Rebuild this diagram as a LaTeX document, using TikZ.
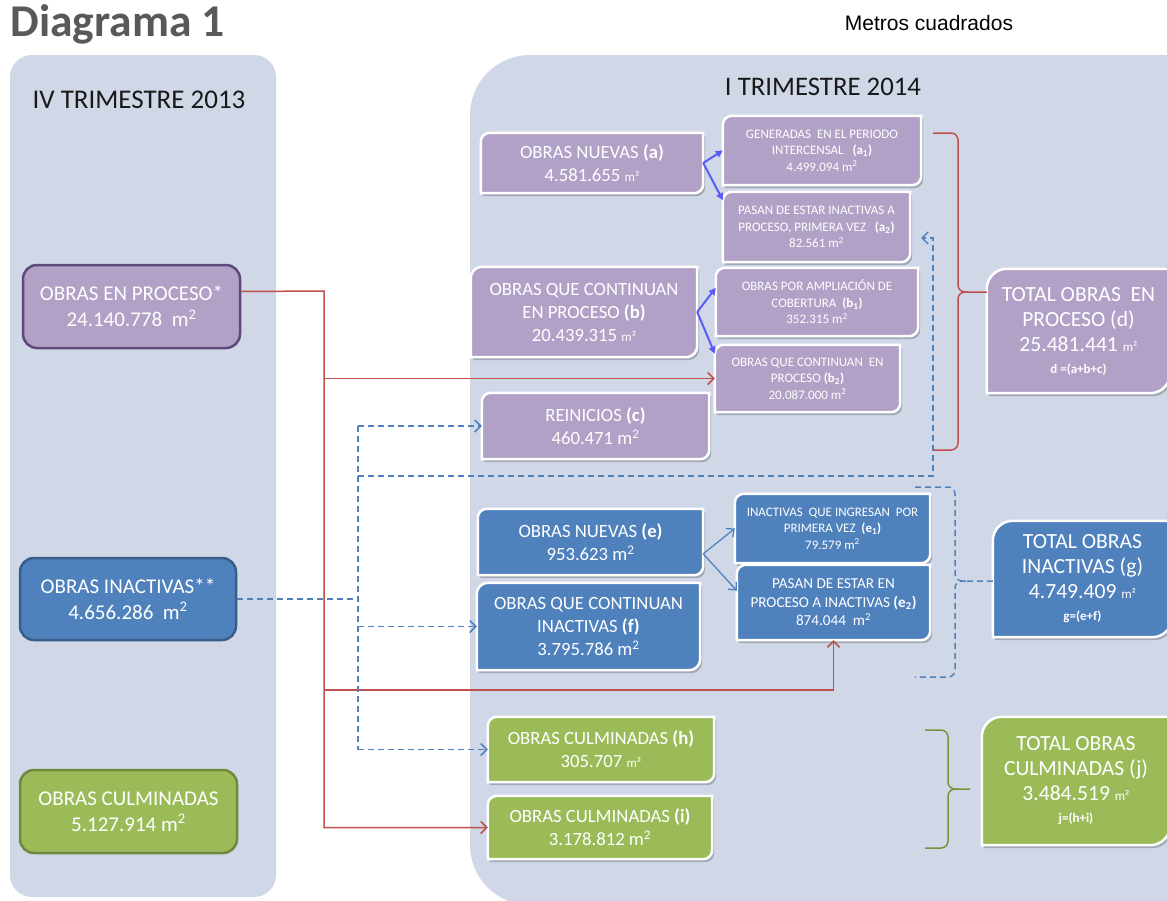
\documentclass[tikz,border=0pt]{standalone}
\usepackage{fontspec}
\setmainfont{Carlito}
\newfontfamily\arialfont{Liberation Sans}
\usetikzlibrary{arrows.meta,positioning,calc,backgrounds}
\definecolor{panel}{HTML}{D0D8E8}
\definecolor{lila}{HTML}{B2A1C7}
\definecolor{lilaborde}{HTML}{5F497A}
\definecolor{azul}{HTML}{4F81BD}
\definecolor{azulborde}{HTML}{385D8A}
\definecolor{verde}{HTML}{9BBB59}
\definecolor{verdeborde}{HTML}{71893F}
\definecolor{rojo}{HTML}{C0504D}
\definecolor{verdellave}{HTML}{77933C}
\definecolor{violeta}{HTML}{5B5BFA}
\definecolor{titulo}{HTML}{595959}

\pgfdeclarelayer{panels}
\pgfdeclarelayer{boxes}
\pgfsetlayers{panels,boxes,main}

\newcommand{\msq}{{\fontsize{13}{13}\selectfont m²}}
\newcommand{\mdos}{m\textsuperscript{2}}

\tikzset{
  boxsize/.style 2 args={minimum width=#1pt, minimum height=#2pt},
  oldbox/.style={draw, line width=2.5pt, rounded corners=14pt, inner sep=0pt, align=center, text=white, font=\fontsize{21}{26}\selectfont},
  newbox/.style={inner sep=0pt, align=center, text=white},
  bigtxt/.style={newbox, font=\fontsize{18.7}{23}\selectfont},
  smalltxt/.style={newbox, font=\fontsize{13}{16.5}\selectfont},
  totaltxt/.style={newbox, font=\fontsize{21.6}{25}\selectfont},
  rojoline/.style={draw=rojo, line width=1.5pt, -{Straight Barb[length=6pt,width=12pt]}},
  azuldash/.style={draw=azul, line width=1.5pt, dash pattern=on 6pt off 4pt, -{Straight Barb[length=6pt,width=12pt]}},
  violarrow/.style={draw=violeta, line width=2pt, -{Triangle[length=7pt,width=7pt]}},
  azularrow/.style={draw=azul, line width=1.3pt, -{Straight Barb[length=6pt,width=11pt]}},
  llave/.style={line width=1.5pt, rounded corners=7pt},
}

\begin{document}
\begin{tikzpicture}[x=1pt, y=1pt]
\useasboundingbox (0,0) rectangle (1167,-900);

% Titles
\node[anchor=base west, font=\fontsize{45.5}{45.5}\selectfont\bfseries, text=titulo] (titulo) at (7,-36) {Diagrama 1};
\node[anchor=base, font=\arialfont\fontsize{21}{21}\selectfont] (unidad) at (929,-30) {Metros cuadrados};

% Panels
\begin{pgfonlayer}{panels}
  \fill[panel, rounded corners=22pt] (10,-55) rectangle (276,-897);
  \fill[panel, rounded corners=60pt] (470,-55) rectangle (1240,-905);
\end{pgfonlayer}
\node[font=\fontsize{27}{27}\selectfont, text=black!90] (trim13) at (139,-100) {IV TRIMESTRE 2013};
\node[font=\fontsize{26.8}{27}\selectfont, text=black!90] (trim14) at (823,-87) {I TRIMESTRE 2014};

% IV trimestre 2013
\node[oldbox, fill=lila, draw=lilaborde, boxsize={217}{83}] (pro) at (131.5,-306.5) {OBRAS\ EN PROCESO*\\24.140.778\ \ \mdos};
\node[oldbox, fill=azul, draw=azulborde, boxsize={216}{82}] (ina) at (128,-599) {OBRAS INACTIVAS**\\4.656.286\ \ \mdos};
\node[oldbox, fill=verde, draw=verdeborde, boxsize={217}{83}] (cul) at (128.5,-811.5) {OBRAS CULMINADAS\\5.127.914 \mdos};

% I trimestre 2014: en proceso
\node[bigtxt, boxsize={222}{60}] (a) at (592,-163) {OBRAS NUEVAS \textbf{(a)}\\4.581.655 \msq};
\node[smalltxt, boxsize={198}{69}] (a1) at (822,-150.5) {GENERADAS\ \ EN EL PERIODO\\INTERCENSAL\ \ \ \textbf{(a\textsubscript{1})}\\4.499.094 \mdos};
\node[smalltxt, boxsize={187}{70}] (a2) at (816.5,-227) {PASAN DE ESTAR INACTIVAS A\\PROCESO, PRIMERA VEZ\ \ \ \textbf{(a\textsubscript{2})}\\82.561 \mdos};
\node[bigtxt, boxsize={226}{90}] (b) at (584,-312) {OBRAS QUE CONTINUAN\\EN PROCESO \textbf{(b)}\\20.439.315 \msq};
\node[smalltxt, boxsize={202}{68}] (b1) at (817,-302) {OBRAS POR AMPLIACIÓN DE\\COBERTURA\ \ \textbf{(b\textsubscript{1})}\\352.315 \mdos};
\node[smalltxt, boxsize={185}{67}] (b2) at (807.5,-378.5) {OBRAS QUE CONTINUAN\ \ EN\\PROCESO \textbf{(b\textsubscript{2})}\\20.087.000 \mdos};
\node[bigtxt, boxsize={227}{66}] (c) at (595.5,-426) {REINICIOS \textbf{(c)}\\460.471 \mdos};
\node[totaltxt, boxsize={183}{124}] (d) at (1078.5,-331) {TOTAL OBRAS\ \ EN\\PROCESO (d)\\25.481.441 \msq\\[-3pt]{\fontsize{13}{15}\selectfont\bfseries d =(a+b+c)}};

% I trimestre 2014: inactivas
\node[bigtxt, boxsize={225}{66}] (e) at (590.5,-542) {OBRAS NUEVAS \textbf{(e)}\\953.623 \mdos};
\node[smalltxt, boxsize={195}{69}] (e1) at (832.5,-528.5) {INACTIVAS\ \ QUE INGRESAN\ \ POR\\PRIMERA VEZ\ \ \textbf{(e\textsubscript{1})}\\79.579 \mdos};
\node[newbox, font=\fontsize{15.2}{18.5}\selectfont, boxsize={193}{75}] (e2) at (833.5,-602.5) {PASAN DE ESTAR EN\\PROCESO A INACTIVAS \textbf{(e\textsubscript{2})}\\874.044\ \ \mdos};
\node[bigtxt, boxsize={223}{87}] (f) at (588.5,-626.5) {OBRAS QUE CONTINUAN\\INACTIVAS \textbf{(f)}\\3.795.786 \mdos};
\node[totaltxt, boxsize={179}{116}] (g) at (1082.5,-579) {TOTAL OBRAS\\INACTIVAS (g)\\4.749.409 \msq\\[-3pt]{\fontsize{13}{15}\selectfont\bfseries g=(e+f)}};

% I trimestre 2014: culminadas
\node[bigtxt, boxsize={226}{65}] (h) at (601,-749.5) {OBRAS CULMINADAS \textbf{(h)}\\305.707 \msq};
\node[bigtxt, boxsize={224}{63}] (i) at (600,-827.5) {OBRAS CULMINADAS \textbf{(i)}\\3.178.812 \mdos};
\node[totaltxt, boxsize={188}{128}] (j) at (1076,-781) {TOTAL OBRAS\\CULMINADAS (j)\\3.484.519 \msq\\[-3pt]{\fontsize{13}{15}\selectfont\bfseries j=(h+i)}};

% box shapes (round diagonal corners)
\begin{pgfonlayer}{boxes}
\foreach \n/\c/\r in {a/lila/9pt, a1/lila/9pt, a2/lila/9pt, b/lila/11pt, b1/lila/9pt, b2/lila/9pt, c/lila/9pt, d/lila/20pt,
    e/azul/9pt, e1/azul/9pt, e2/azul/9pt, f/azul/11pt, g/azul/20pt, h/verde/9pt, i/verde/9pt, j/verde/20pt}{
  \fill[black, opacity=.22] ([xshift=2pt,yshift=-3pt]\n.south west) -- ([xshift=2pt,yshift=-3pt-\r]\n.north west)
    arc[start angle=180, end angle=90, radius=\r] -- ([xshift=2pt,yshift=-3pt]\n.north east)
    -- ([xshift=2pt,yshift=-3pt+\r]\n.south east) arc[start angle=0, end angle=-90, radius=\r] -- cycle;
  \filldraw[fill=\c, draw=white, line width=2.5pt] (\n.south west) -- ([yshift=-\r]\n.north west)
    arc[start angle=180, end angle=90, radius=\r] -- (\n.north east)
    -- ([yshift=\r]\n.south east) arc[start angle=0, end angle=-90, radius=\r] -- cycle;
}
\end{pgfonlayer}

% splits
\draw[violarrow] (a.east) -- (a1.west);
\draw[violarrow] (a.east) -- (a2.164);
\draw[violarrow] (b.east) -- (b1.172);
\draw[violarrow] (b.east) -- (b2.165);
\draw[azularrow] (e.-6) -- (e1.west);
\draw[azularrow] (e.-6) -- (e2.173);

% en proceso (red)
\coordinate (rx) at (324,-291);
\coordinate (rlow) at (324,-690);
\draw[rojoline] ([yshift=15pt]pro.east) -- (rx) |- (i.west);
\draw[rojoline] (rx |- b2.west) -- (b2.west);
\draw[rojoline] (rlow) -| (e2.south);

% inactivas (blue dashed)
\coordinate (bx) at (358,-476);
\coordinate (bup) at (933,-476);
\coordinate (a2in) at (921,-238);
\draw[azuldash, -] (ina.east) -- (bx |- ina.east);
\draw[azuldash, -] (bx |- c.west) -- (bx |- h.west);
\draw[azuldash] (bx |- c.west) -- (c.west);
\draw[azuldash] (bx |- f.west) -- (f.west);
\draw[azuldash] (bx |- h.west) -- (h.west);
\draw[azuldash] (bx) -- (bup) |- (a2in);

% braces
\draw[llave, rojo] (933,-133) -- (958,-133) -- (958,-292) -- (d.west |- 0,-292);
\draw[llave, rojo] (968,-292) -- (958,-292) -- (958,-450) -- (933,-450);
\draw[llave, azul, dash pattern=on 6pt off 4pt] (915,-487) -- (955,-487) -- (955,-581) -- (g.west |- 0,-581);
\draw[llave, azul, dash pattern=on 6pt off 4pt] (966,-581) -- (955,-581) -- (955,-677) -- (915,-677);
\draw[llave, verdellave] (925,-730) -- (948,-730) -- (948,-789) -- (970,-789);
\draw[llave, verdellave] (958,-789) -- (948,-789) -- (948,-848) -- (925,-848);

\end{tikzpicture}
\end{document}
